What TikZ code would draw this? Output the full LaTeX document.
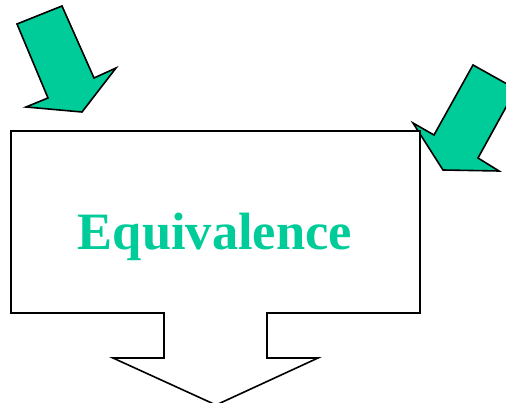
\documentclass[tikz,border=0pt]{standalone}
\usepackage{fontspec}
\setmainfont{Liberation Serif}
\definecolor{eqgreen}{HTML}{00CC99}
\tikzset{
  blockarrow/.style={fill=eqgreen, draw=black, line width=1.6pt, line join=miter},
  callout/.style={fill=white, draw=black, line width=1.6pt, line join=miter},
  eqtext/.style={text=eqgreen, font=\bfseries\fontsize{52.5}{60}\selectfont, inner sep=0pt}
}
\begin{document}
\begin{tikzpicture}[x=1pt,y=-1pt]
\useasboundingbox (0,0) rectangle (506,403);
\clip (0,0) rectangle (506,403);
% left green arrow
\draw[blockarrow] (17,24) -- (62,6) -- (94,78) -- (116,68) -- (82,112) -- (26,107) -- (48,98) -- cycle;
% right green arrow
\draw[blockarrow] (473,65) -- (516,89) -- (478,158) -- (499,171) -- (443,170) -- (413,123) -- (434,135) -- cycle;
% callout box with down arrow
\draw[callout] (11,131) -- (420,131) -- (420,313) -- (267,313) -- (267,358) -- (318,358)
  -- (216,405) -- (113,358) -- (164,358) -- (164,313) -- (11,313) -- cycle;
\node[eqtext, anchor=base] (eq) at (215,250) {Equivalence};
\end{tikzpicture}
\end{document}
